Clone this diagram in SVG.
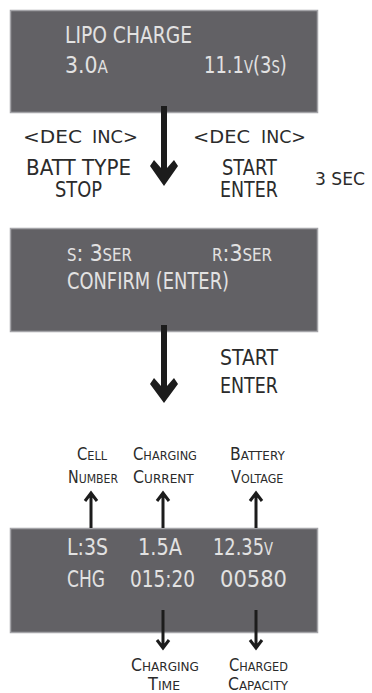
<svg xmlns="http://www.w3.org/2000/svg" width="372" height="693" viewBox="0 0 372 693">
<style>
.scr{fill:#626165;stroke:#a4a4a8;stroke-width:1.5}
.lcd{font-family:"DejaVu Sans","Liberation Sans",sans-serif;fill:#e2e2e2;font-size:23px}
.lbl{font-family:"DejaVu Sans","Liberation Sans",sans-serif;fill:#2b2b2b;font-size:21px}
.sm{font-family:"DejaVu Sans","Liberation Sans",sans-serif;fill:#2b2b2b;font-size:17px}
.s17{font-size:17px}
.s13{font-size:13px}
.big{fill:#1c1c1c}
.thin{stroke:#1c1c1c;stroke-width:3;fill:none}
</style>
<rect width="372" height="693" fill="#ffffff"/>

<g id="screen1">
<rect class="scr" x="10.5" y="10.5" width="307" height="102"/>
<text class="lcd" x="65" y="43" textLength="127" lengthAdjust="spacingAndGlyphs">LIPO CHARGE</text>
<text class="lcd" transform="translate(65,73) scale(0.89,1)">3.0<tspan class="s17">A</tspan></text>
<text class="lcd" transform="translate(204,73) scale(0.78,1)">11.1<tspan class="s17">V</tspan>(3<tspan class="s17">S</tspan>)</text>
</g>

<g id="keys1">
<text class="sm" x="23" y="143" textLength="59" lengthAdjust="spacingAndGlyphs">&lt;DEC</text>
<text class="sm" x="92" y="143" textLength="46" lengthAdjust="spacingAndGlyphs">INC&gt;</text>
<text class="lbl" x="26" y="175" textLength="105" lengthAdjust="spacingAndGlyphs">BATT TYPE</text>
<text class="lbl" x="55" y="197" textLength="47" lengthAdjust="spacingAndGlyphs">STOP</text>
<text class="sm" x="193" y="143" textLength="57" lengthAdjust="spacingAndGlyphs">&lt;DEC</text>
<text class="sm" x="261" y="143" textLength="45" lengthAdjust="spacingAndGlyphs">INC&gt;</text>
<text class="lbl" x="222" y="175" textLength="55" lengthAdjust="spacingAndGlyphs">START</text>
<text class="lbl" x="220" y="197" textLength="58" lengthAdjust="spacingAndGlyphs">ENTER</text>
<text class="lbl" x="315" y="185" style="font-size:17px" textLength="50" lengthAdjust="spacingAndGlyphs">3 SEC</text>
</g>

<g id="screen2">
<rect class="scr" x="10.5" y="228.5" width="307" height="103"/>
<text class="lcd" transform="translate(67,261) scale(0.88,1)"><tspan class="s17">S</tspan>: 3<tspan class="s17">SER</tspan></text>
<text class="lcd" transform="translate(212,261) scale(0.89,1)"><tspan class="s17">R</tspan>:3<tspan class="s17">SER</tspan></text>
<text class="lcd" x="67" y="289" textLength="162" lengthAdjust="spacingAndGlyphs">CONFIRM (ENTER)</text>
</g>

<g id="keys2">
<text class="lbl" x="220" y="365" textLength="58" lengthAdjust="spacingAndGlyphs">START</text>
<text class="lbl" x="220" y="393" textLength="58" lengthAdjust="spacingAndGlyphs">ENTER</text>
</g>

<g id="labels-top">
<text class="sm" transform="translate(77,460) scale(0.87,1)">C<tspan class="s13">ELL</tspan></text>
<text class="sm" transform="translate(68,483) scale(0.84,1)">N<tspan class="s13">UMBER</tspan></text>
<text class="sm" transform="translate(133,460) scale(0.873,1)">C<tspan class="s13">HARGING</tspan></text>
<text class="sm" transform="translate(133,483) scale(0.93,1)">C<tspan class="s13">URRENT</tspan></text>
<text class="sm" transform="translate(230,460) scale(0.92,1)">B<tspan class="s13">ATTERY</tspan></text>
<text class="sm" transform="translate(231,483) scale(0.857,1)">V<tspan class="s13">OLTAGE</tspan></text>
</g>

<g id="screen3">
<rect class="scr" x="10.5" y="528.5" width="307" height="104"/>
<text class="lcd" x="67" y="555" textLength="41" lengthAdjust="spacingAndGlyphs">L:3S</text>
<text class="lcd" x="138" y="555" textLength="44" lengthAdjust="spacingAndGlyphs">1.5A</text>
<text class="lcd" transform="translate(213,555) scale(0.775,1)">12.35<tspan class="s17">V</tspan></text>
<text class="lcd" x="67" y="587" textLength="38" lengthAdjust="spacingAndGlyphs">CHG</text>
<text class="lcd" x="130" y="587" textLength="65" lengthAdjust="spacingAndGlyphs">015:20</text>
<text class="lcd" x="220" y="587" textLength="67" lengthAdjust="spacingAndGlyphs">00580</text>
</g>

<g id="labels-bottom">
<text class="sm" transform="translate(131,671) scale(0.928,1)">C<tspan class="s13">HARGING</tspan></text>
<text class="sm" transform="translate(148,690) scale(0.95,1)">T<tspan class="s13">IME</tspan></text>
<text class="sm" transform="translate(229,671) scale(0.869,1)">C<tspan class="s13">HARGED</tspan></text>
<text class="sm" transform="translate(228,690) scale(0.92,1)">C<tspan class="s13">APACITY</tspan></text>
</g>

<g id="connectors">
<polygon class="big" points="150,166 154,160 161,168 161,106 167,106 167,168 174,160 178,166 164,186"/>
<polygon class="big" points="150,384 154,378 161,386 161,325 167,325 167,386 174,378 178,384 164,403"/>
<path class="thin" d="M91,528 V494 M85,501 L91,493 L97,501"/>
<path class="thin" d="M163,528 V494 M157,501 L163,493 L169,501"/>
<path class="thin" d="M256,528 V494 M250,501 L256,493 L262,501"/>
<path class="thin" d="M163,610 V647 M157,640 L163,648 L169,640"/>
<path class="thin" d="M256,610 V647 M250,640 L256,648 L262,640"/>
</g>
</svg>
